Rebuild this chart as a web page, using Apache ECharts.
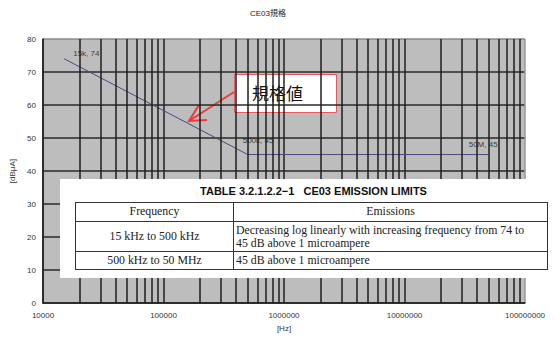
<!DOCTYPE html>
<html>
<head>
<meta charset="utf-8">
<script src="https://cdn.jsdelivr.net/npm/echarts@6/dist/echarts.min.js"></script>
<style>
  html, body { margin: 0; padding: 0; background: #fff; }
  #wrap { position: relative; width: 555px; height: 337px; }
  #chart { position: absolute; left: 0; top: 0; width: 555px; height: 337px; }
  #limits {
    position: absolute; left: 60px; top: 179px; width: 493px; height: 99px;
    background: #fff; font-family: "Liberation Serif", serif; color: #222;
  }
  #limits .cap {
    position: absolute; left: 0; width: 100%; top: 6px; text-align: center;
    font: bold 11px "Liberation Sans", Arial, sans-serif; color: #111;
    padding-left: 14px; box-sizing: border-box; white-space: nowrap;
  }
  #limits table {
    position: absolute; left: 15px; top: 23px; width: 473px; height: 68px;
    border-collapse: collapse; font-size: 11.8px; line-height: 13px; table-layout: fixed;
  }
  #limits td, #limits th {
    border: 1.5px solid #333; padding: 0 2px; font-weight: normal; white-space: nowrap;
  }
  #limits th { height: 17px; text-align: center; }
  #limits td.c { text-align: center; }
</style>
</head>
<body>
<div id="wrap">
  <div id="chart"></div>
  <div id="limits">
    <div class="cap">TABLE 3.2.1.2.2&#8722;1&nbsp;&nbsp;&nbsp;CE03 EMISSION LIMITS</div>
    <table>
      <tr><th style="width:153px">Frequency</th><th>Emissions</th></tr>
      <tr><td class="c" style="height:29px">15 kHz to 500 kHz</td><td>Decreasing log linearly with increasing frequency from 74 to<br>45 dB above 1 microampere</td></tr>
      <tr><td class="c" style="height:16px">500 kHz to 50 MHz</td><td>45 dB above 1 microampere</td></tr>
    </table>
  </div>
</div>
<script>
// CE03 conducted emission limit (dBμA) against frequency (Hz)
var freqs = [15000, 500000, 50000000];
var limits = [74, 45, 45];
var pointLabels = ['15k, 74', '500k, 45', '50M, 45'];
var labelOffsets = [[3, -5], [-11, -14], [-26, -10]];

var yTicks = [0, 10, 20, 30, 40, 50, 60, 70, 80];
var xDecades = [1e4, 1e5, 1e6, 1e7, 1e8];

// 2..9 × each decade, for the log grid
var minorLines = [];
for (var d = 0; d < xDecades.length - 1; d++) {
  for (var m = 2; m <= 9; m++) minorLines.push({ xAxis: xDecades[d] * m });
}

var chart = echarts.init(document.getElementById('chart'), null, { renderer: 'svg' });
var lbl = { fontFamily: 'Liberation Sans, Arial, sans-serif', fontSize: 8, color: '#333' };

chart.setOption({
  animation: false,
  title: {
    text: 'CE03規格', left: 263, top: 4, textAlign: 'center',
    textStyle: { fontSize: 8, fontWeight: 'normal', color: '#222', fontFamily: 'Liberation Sans, Noto Sans CJK JP, sans-serif' }
  },
  grid: { left: 43, right: 30, top: 39, bottom: 28, show: true, backgroundColor: '#bdbdbd', borderWidth: 0 },
  xAxis: {
    type: 'log', logBase: 10, min: xDecades[0], max: xDecades[xDecades.length - 1],
    name: '[Hz]', nameLocation: 'middle', nameGap: 17,
    nameTextStyle: lbl,
    axisLine: { lineStyle: { color: '#222', width: 1.5 } },
    axisTick: { show: false },
    axisLabel: Object.assign({ margin: 8, formatter: function (v) { return String(Math.round(v)); } }, lbl),
    splitLine: { show: true, lineStyle: { color: ['#222', '#222', '#222', '#222', '#999'], width: 1.5 } }
  },
  yAxis: {
    type: 'value', min: yTicks[0], max: yTicks[yTicks.length - 1], interval: 10,
    name: '[dBμA]', nameLocation: 'middle', nameGap: 27, nameRotate: 90,
    nameTextStyle: lbl,
    axisLine: { show: true, lineStyle: { color: '#222', width: 1.5 } },
    axisTick: { show: false },
    axisLabel: Object.assign({ margin: 7 }, lbl),
    splitLine: { show: true, lineStyle: { color: ['#222', '#2a2a2a', '#2a2a2a', '#2a2a2a', '#2a2a2a', '#2a2a2a', '#2a2a2a', '#2a2a2a', '#8a8a8a'], width: 1.5 } }
  },
  series: [
    {
      type: 'line', z: 1, data: [], silent: true,
      markLine: {
        silent: true, symbol: 'none', label: { show: false },
        lineStyle: { color: '#1e1e1e', width: 1.5, type: 'solid' },
        data: minorLines
      }
    },
    {
      type: 'line', z: 3,
      data: freqs.map(function (f, i) { return [f, limits[i]]; }),
      showSymbol: false, symbol: 'none',
      lineStyle: { color: '#4a4a82', width: 1 }
    },
    {
      // point annotations at the limit corners
      type: 'scatter', z: 4, silent: true,
      data: freqs.map(function (f, i) {
        return {
          value: [f, limits[i]],
          label: { show: true, position: 'right', offset: labelOffsets[i], formatter: pointLabels[i] }
        };
      }),
      symbolSize: 2,
      itemStyle: { color: 'rgba(0,0,0,0)' },
      label: Object.assign({ distance: 5 }, lbl, { color: '#111' })
    }
  ],
  graphic: [
    {
      type: 'group', z: 10,
      children: [
        { type: 'rect', shape: { x: 234.5, y: 74.5, width: 102, height: 38 },
          style: { fill: '#fff', stroke: '#e85a5a', lineWidth: 1 } },
        { type: 'text', x: 252, y: 92,
          style: { text: '規格値', font: '17px "Noto Sans CJK JP", sans-serif', fill: '#111', textVerticalAlign: 'middle' } },
        { type: 'polyline', shape: { points: [[234, 92], [189, 121]] },
          style: { stroke: '#ec3b3b', lineWidth: 2, fill: 'none' } },
        { type: 'polyline', shape: { points: [[199, 105], [189, 121], [207, 120]] },
          style: { stroke: '#ec3b3b', lineWidth: 2, fill: 'none' } }
      ]
    }
  ]
});
</script>
</body>
</html>
